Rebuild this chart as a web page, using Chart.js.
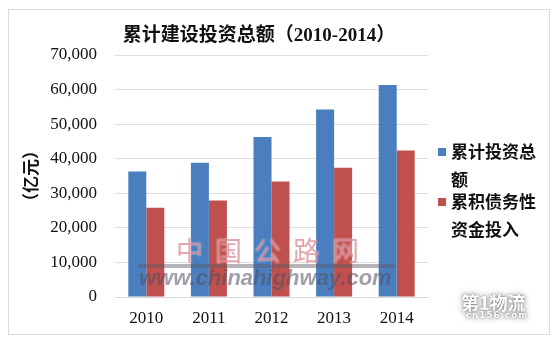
<!DOCTYPE html>
<html>
<head>
<meta charset="utf-8">
<script src="https://cdn.jsdelivr.net/npm/chart.js@4"></script>
<style>
    html, body { margin: 0; padding: 0; background: #fff; }
    #wrap { position: relative; width: 560px; height: 343px; overflow: hidden; }
    #frame { position: absolute; left: 8px; top: 9px; width: 540px; height: 324px; border: 1px solid #dcdcdc; }
    #chart { position: absolute; left: 0; top: 0; }
    #legend { position: absolute; left: 438px; top: 137px; width: 110px;
        font-family: 'Noto Sans CJK SC', sans-serif; font-weight: bold; font-size: 17px; color: #111; }
    .legend-item { position: relative; padding-left: 13px; line-height: 28px; margin-bottom: -6px; }
    .legend-box { position: absolute; left: 0; top: 11px; width: 8px; height: 8px; }
    .legend-text { display: block; width: 90px; }
    /* watermarks of the source image */
    .wm { position: absolute; white-space: nowrap; pointer-events: none; }
    #wm-cn { left: 176px; top: 230px; font: 400 27px 'Noto Sans CJK SC', sans-serif; letter-spacing: 12px;
        color: rgba(205, 105, 118, 0.6); text-shadow: 0 0 2px rgba(255,255,255,0.8); }
    #wm-bar { left: 138px; top: 264px; width: 258px; height: 4px; border-radius: 2px;
        background: rgba(90, 90, 100, 0.45); }
    #wm-url { left: 139px; top: 265px; font: italic bold 22px 'Liberation Sans', sans-serif;
        color: rgba(80, 80, 100, 0.55); }
    #wm-logo { left: 461px; top: 289px; font: bold 18px 'Noto Sans CJK SC', sans-serif; color: #fff;
        text-shadow: 0 0 3px #777, 0 0 7px #999; }
    #wm-logo-sub { left: 466px; top: 311px; font: bold 8px 'DejaVu Sans', sans-serif; color: #fff;
        letter-spacing: 1.5px; text-shadow: 0 0 3px #666, 0 0 6px #999; }
</style>
</head>
<body>
<div id="wrap">
    <div id="frame"></div>
    <canvas id="chart" width="560" height="343"></canvas>
    <div id="legend"></div>
    <div class="wm" id="wm-cn">中国公路网</div>
    <div class="wm" id="wm-bar"></div>
    <div class="wm" id="wm-url">www.chinahighway.com</div>
    <div class="wm" id="wm-logo">第1物流</div>
    <div class="wm" id="wm-logo-sub">cn156.com</div>
</div>
<script>
const chartTitle = '累计建设投资总额（2010-2014）';
const yAxisTitle = '（亿元）';
const categories = ['2010', '2011', '2012', '2013', '2014'];
const seriesNames = ['累计投资总额', '累积债务性资金投入'];
const totalInvestment = [36300, 38800, 46300, 54200, 61300];
const debtFunding = [25800, 27900, 33400, 37400, 42400];
const yMax = 70000;
const yStep = 10000;

const colors = ['#4a7ebf', '#c0504d'];

// draws the title centred over the plot like the original
const titlePlugin = {
    id: 'customTitle',
    afterDraw(chart) {
        const ctx = chart.ctx;
        ctx.save();
        ctx.font = "bold 19px 'Liberation Serif', 'Noto Sans CJK SC', serif";
        ctx.fillStyle = '#111';
        ctx.textAlign = 'center';
        ctx.textBaseline = 'middle';
        ctx.fillText(chartTitle, 259, 36);
        ctx.restore();
    }
};

const chart = new Chart(document.getElementById('chart'), {
    type: 'bar',
    data: {
        labels: categories,
        datasets: [
            {
                label: seriesNames[0],
                data: totalInvestment,
                backgroundColor: colors[0],
                categoryPercentage: 0.575,
                barPercentage: 1
            },
            {
                label: seriesNames[1],
                data: debtFunding,
                backgroundColor: colors[1],
                categoryPercentage: 0.575,
                barPercentage: 1
            }
        ]
    },
    options: {
        responsive: false,
        animation: false,
        layout: { padding: { left: 12, right: 132, top: 55, bottom: 0 } },
        plugins: {
            legend: { display: false },
            title: { display: false },
            tooltip: { enabled: false }
        },
        scales: {
            x: {
                grid: { display: false, drawTicks: false },
                border: { color: '#d9d9d9' },
                ticks: {
                    color: '#111',
                    padding: 11,
                    font: { family: "'Liberation Serif', serif", size: 17 }
                },
                afterFit(scale) { scale.height = 46; }
            },
            y: {
                min: 0,
                max: yMax,
                grid: { color: '#dedede', drawTicks: false },
                border: { display: false },
                ticks: {
                    stepSize: yStep,
                    color: '#111',
                    padding: 18,
                    font: { family: "'Liberation Serif', serif", size: 17 },
                    callback: (value) => value.toLocaleString('en-US')
                },
                title: {
                    display: true,
                    text: yAxisTitle,
                    color: '#111',
                    padding: { top: 8, bottom: 0 },
                    font: { family: "'Noto Sans CJK SC', sans-serif", size: 17, weight: 'bold' }
                },
                afterFit(scale) { scale.width = 103; }
            }
        }
    },
    plugins: [titlePlugin]
});

// legend with wrapped text, built from the datasets
const legend = document.getElementById('legend');
chart.data.datasets.forEach(ds => {
    const item = document.createElement('div');
    item.className = 'legend-item';
    item.innerHTML = `<span class="legend-box" style="background:${ds.backgroundColor}"></span><span class="legend-text">${ds.label}</span>`;
    legend.appendChild(item);
});
</script>
</body>
</html>
